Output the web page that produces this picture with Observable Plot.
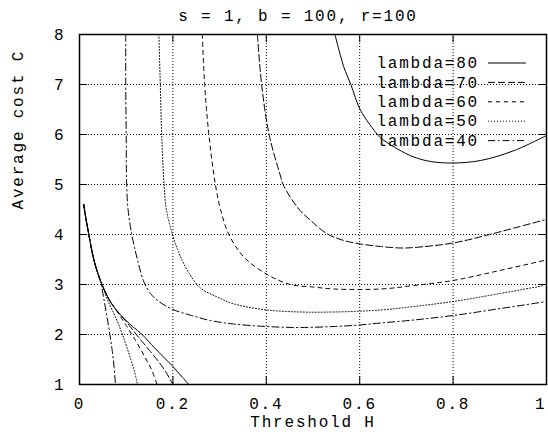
<!DOCTYPE html>
<html><head><meta charset="utf-8">
<script src="https://cdn.jsdelivr.net/npm/d3@7"></script>
<script src="https://cdn.jsdelivr.net/npm/@observablehq/plot@0.6"></script>
<style>
body{margin:0;background:#fff;}
#wrap{position:relative;width:548px;height:432px;font-family:"Liberation Mono","Courier New",monospace;color:#000;}
#title{position:absolute;top:9px;left:298px;transform:translateX(-50%);font-size:16px;letter-spacing:1.8px;line-height:16px;white-space:pre;}
#chart{position:absolute;top:24px;left:0;}
#chart svg text{letter-spacing:1.8px;}
</style></head><body>
<div id="wrap"><div id="title"></div><div id="chart"></div></div>
<script>
const titleText = "s = 1, b = 100, r=100";
const xLabel = "Threshold H";
const yLabel = "Average cost C";
const xTicks = [0, 0.2, 0.4, 0.6, 0.8, 1];
const xTickLabels = ["0", "0.2", "0.4", "0.6", "0.8", "1"];
const yTicks = [1, 2, 3, 4, 5, 6, 7, 8];
const lambdas = [80, 70, 60, 50, 40];

// [H, C] pairs
const lower80 = [[0.009,4.6],[0.015,4.25],[0.02,4.0],[0.027,3.65],[0.034,3.38],[0.042,3.15],[0.049,2.98],[0.06,2.76],[0.07,2.6],[0.085,2.42],[0.1,2.28],[0.115,2.15],[0.134,2.0],[0.16,1.74],[0.18,1.55],[0.2,1.36],[0.218,1.17],[0.234,1.0]];
const lower70 = [[0.009,4.6],[0.015,4.25],[0.02,4.0],[0.027,3.65],[0.034,3.38],[0.042,3.15],[0.049,2.98],[0.06,2.76],[0.07,2.6],[0.085,2.42],[0.1,2.26],[0.115,2.08],[0.134,1.86],[0.15,1.68],[0.17,1.45],[0.185,1.25],[0.2,1.0]];
const lower60 = [[0.009,4.6],[0.015,4.25],[0.02,4.0],[0.027,3.65],[0.034,3.38],[0.042,3.15],[0.049,2.98],[0.06,2.76],[0.07,2.6],[0.084,2.41],[0.1,2.18],[0.12,1.88],[0.14,1.55],[0.155,1.28],[0.166,1.0]];
const lower50 = [[0.009,4.6],[0.015,4.25],[0.02,4.0],[0.027,3.65],[0.034,3.38],[0.042,3.15],[0.049,2.98],[0.055,2.82],[0.062,2.65],[0.077,2.35],[0.09,2.05],[0.099,1.81],[0.11,1.5],[0.118,1.25],[0.124,1.0]];
const lower40 = [[0.009,4.6],[0.015,4.25],[0.02,4.0],[0.027,3.65],[0.034,3.38],[0.042,3.15],[0.046,3.02],[0.052,2.72],[0.059,2.35],[0.065,2.0],[0.07,1.68],[0.074,1.35],[0.077,1.0]];

const upper80 = [[0.547,8],[0.566,7.35],[0.581,7],[0.602,6.48],[0.638,6.0],[0.645,5.93],[0.681,5.71],[0.716,5.55],[0.752,5.46],[0.8,5.43],[0.859,5.48],[0.931,5.68],[1.0,5.98]];
const upper70 = [[0.381,8],[0.39,7],[0.406,6],[0.431,5.15],[0.436,5.0],[0.466,4.55],[0.495,4.28],[0.531,4.01],[0.566,3.88],[0.602,3.81],[0.645,3.76],[0.688,3.73],[0.716,3.74],[0.8,3.83],[0.874,3.99],[0.931,4.13],[0.995,4.29]];
const upper60 = [[0.263,8],[0.268,7],[0.277,6],[0.291,5],[0.302,4.5],[0.32,4.0],[0.352,3.55],[0.402,3.2],[0.452,3.0],[0.5,2.95],[0.545,2.91],[0.645,2.91],[0.716,2.98],[0.8,3.08],[0.895,3.27],[0.995,3.48]];
const upper50 = [[0.17,8],[0.173,7],[0.176,6],[0.181,5],[0.186,4.5],[0.199,4.0],[0.21,3.7],[0.22,3.48],[0.235,3.22],[0.259,2.93],[0.295,2.75],[0.331,2.61],[0.402,2.49],[0.474,2.45],[0.545,2.45],[0.645,2.49],[0.716,2.56],[0.8,2.66],[0.895,2.81],[0.995,2.98]];
const upper40 = [[0.099,8],[0.099,7],[0.1,6],[0.101,5],[0.104,4.5],[0.112,4.0],[0.124,3.5],[0.138,3.05],[0.152,2.82],[0.17,2.66],[0.2,2.5],[0.24,2.38],[0.28,2.28],[0.33,2.21],[0.4,2.16],[0.47,2.14],[0.545,2.16],[0.6,2.19],[0.645,2.23],[0.716,2.29],[0.8,2.38],[0.895,2.51],[1.0,2.66]];

const branches = {80: [lower80, upper80], 70: [lower70, upper70], 60: [lower60, upper60], 50: [lower50, upper50], 40: [lower40, upper40]};
const dashStyle = {80: null, 70: "7,3", 60: "4,4", 50: "1,2", 40: "7,3,1.5,3"};

document.getElementById("title").textContent = titleText;

const font = "'Liberation Mono', 'Courier New', monospace";
const W = 548, H = 408, mL = 79, mR = 2, mT = 10, mB = 48;
const pw = W - mL - mR, ph = H - mT - mB, tick = 8;

const marks = [];
// grid
marks.push(Plot.gridX(xTicks, {stroke: "#000", strokeOpacity: 1, strokeDasharray: "1,2", strokeWidth: 1}));
marks.push(Plot.gridY(yTicks, {stroke: "#000", strokeOpacity: 1, strokeDasharray: "1,2", strokeWidth: 1}));
// curves (dashed first, solid last)
for (const l of [40, 50, 60, 70, 80]) {
  for (const br of branches[l]) {
    marks.push(Plot.line(br, {x: d => d[0], y: d => d[1], curve: "catmull-rom", stroke: "#000", strokeWidth: 1, strokeDasharray: dashStyle[l], clip: true}));
  }
}
// inward ticks
marks.push(Plot.ruleX(xTicks, {insetTop: ph - tick, stroke: "#000"}));
marks.push(Plot.ruleX(xTicks, {insetBottom: ph - tick, stroke: "#000"}));
marks.push(Plot.ruleY(yTicks, {insetRight: pw - tick, stroke: "#000"}));
marks.push(Plot.ruleY(yTicks, {insetLeft: pw - tick, stroke: "#000"}));
// axes labels
marks.push(Plot.axisX(xTicks.slice(0, -1), {tickSize: 0, tickPadding: 13, tickFormat: d => xTickLabels[xTicks.indexOf(d)], label: null}));
marks.push(Plot.axisX(xTicks.slice(-1), {tickSize: 0, tickPadding: 13, tickFormat: d => xTickLabels[xTicks.indexOf(d)], label: null, textAnchor: "end", dx: 0}));
marks.push(Plot.axisY(yTicks, {tickSize: 0, tickPadding: 14, tickFormat: d => String(d), label: null}));
marks.push(Plot.text([xLabel], {frameAnchor: "bottom", dy: 37, lineAnchor: "middle"}));
marks.push(Plot.text([yLabel], {frameAnchor: "left", dx: -62, rotate: -90, lineAnchor: "middle"}));
// legend
lambdas.forEach((l, i) => {
  const dy = 28.5 + 19.4 * i;
  marks.push(Plot.text(["lambda=" + l], {frameAnchor: "top-right", dx: -67.5, dy, textAnchor: "end", lineAnchor: "middle"}));
  marks.push(Plot.ruleY([8], {insetLeft: 409, insetRight: 20, dy, stroke: "#000", strokeWidth: 1, strokeDasharray: dashStyle[l]}));
});
marks.push(Plot.frame({stroke: "#000", strokeWidth: 1.5}));

const chart = Plot.plot({
  width: W, height: H,
  marginLeft: mL, marginRight: mR, marginTop: mT, marginBottom: mB,
  x: {domain: [0, 1], axis: null},
  y: {domain: [1, 8], axis: null},
  style: {fontFamily: font, fontSize: "16px", background: "#fff", color: "#000", overflow: "visible"},
  marks
});
document.getElementById("chart").appendChild(chart);
</script></body></html>
